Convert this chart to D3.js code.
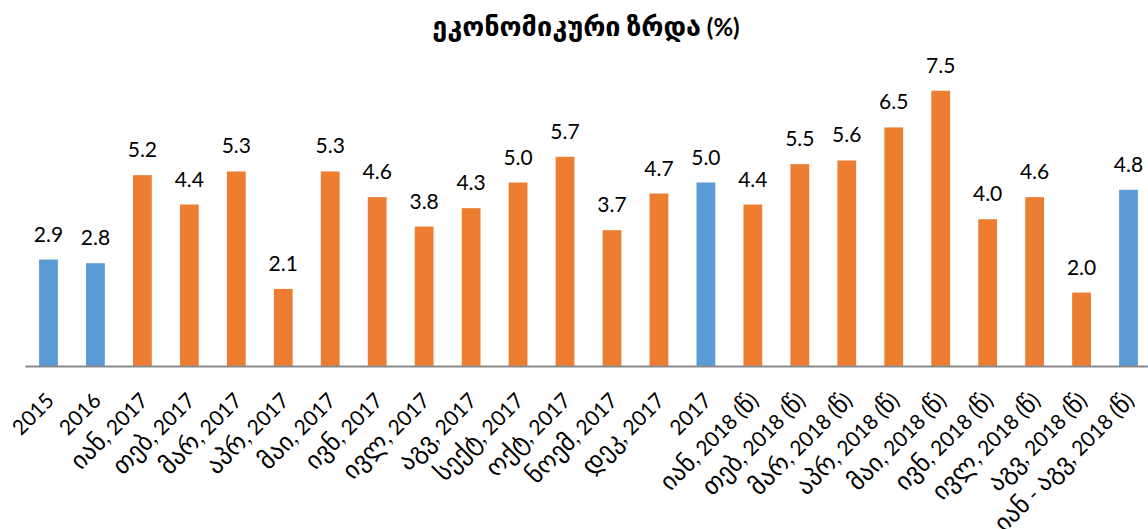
<!DOCTYPE html>
<html>
<head>
<meta charset="utf-8">
<script src="https://cdn.jsdelivr.net/npm/d3@7/dist/d3.min.js"></script>
<style>
  html, body { margin: 0; padding: 0; background: #fff; }
  svg { display: block; }
  text { font-family: "Lato", "DejaVu Sans", sans-serif; fill: #000; }
</style>
</head>
<body>
<svg id="chart" width="1148" height="529"></svg>
<script>
const title = "ეკონომიკური ზრდა (%)";
const categories = [
  "2015", "2016",
  "იან, 2017", "თებ, 2017", "მარ, 2017", "აპრ, 2017", "მაი, 2017", "ივნ, 2017",
  "ივლ, 2017", "აგვ, 2017", "სექტ, 2017", "ოქტ, 2017", "ნოემ, 2017", "დეკ, 2017",
  "2017",
  "იან, 2018 (წ)", "თებ, 2018 (წ)", "მარ, 2018 (წ)", "აპრ, 2018 (წ)",
  "მაი, 2018 (წ)", "ივნ, 2018 (წ)", "ივლ, 2018 (წ)", "აგვ, 2018 (წ)",
  "იან - აგვ, 2018 (წ)"
];
const values = [
  2.9, 2.8,
  5.2, 4.4, 5.3, 2.1, 5.3, 4.6, 3.8, 4.3, 5.0, 5.7, 3.7, 4.7,
  5.0,
  4.4, 5.5, 5.6, 6.5, 7.5, 4.0, 4.6, 2.0,
  4.8
];
// "annual" = yearly / cumulative figure (blue), "monthly" = monthly figure (orange)
const kinds = [
  "annual", "annual",
  "monthly", "monthly", "monthly", "monthly", "monthly", "monthly",
  "monthly", "monthly", "monthly", "monthly", "monthly", "monthly",
  "annual",
  "monthly", "monthly", "monthly", "monthly", "monthly", "monthly", "monthly", "monthly",
  "annual"
];
const yDomain = [0, 8];

const colors = { annual: "#5B9BD5", monthly: "#ED7D31" };

const data = categories.map((c, i) => ({ cat: c, value: values[i], kind: kinds[i] }));

// split a string into runs of Georgian / non-Georgian characters
function runs(str) {
  const out = [];
  const re = /([\u10A0-\u10FF]+)|([^\u10A0-\u10FF]+)/g;
  let m;
  while ((m = re.exec(str)) !== null) {
    out.push({ t: m[0], geo: !!m[1] });
  }
  return out;
}
function fillRuns(sel, str, baseSize, geoSize) {
  sel.text(null);
  runs(str).forEach(r => {
    sel.append("tspan")
      .style("font-size", (r.geo ? geoSize : baseSize) + "px")
      .style("font-family", r.geo ? "'DejaVu Sans', sans-serif" : "Lato, 'DejaVu Sans', sans-serif")
      .text(r.t);
  });
}

const svg = d3.select("#chart");
const baseY = 366;

const x = d3.scaleBand()
  .domain(categories)
  .range([25, 1152])
  .paddingInner(0.6)
  .paddingOuter(0.3);

const y = d3.scaleLinear()
  .domain(yDomain)
  .range([baseY, baseY - 36.7 * 8]);

// Title
const titleText = svg.append("text")
  .attr("x", 586)
  .attr("y", 36)
  .attr("text-anchor", "middle")
  .style("font-weight", "bold");
fillRuns(titleText, title, 24, 27);

// Bars
svg.append("g").selectAll("rect")
  .data(data)
  .join("rect")
  .attr("x", d => x(d.cat))
  .attr("width", x.bandwidth())
  .attr("y", d => y(d.value))
  .attr("height", d => y(0) - y(d.value))
  .attr("fill", d => colors[d.kind]);

// Value labels
svg.append("g").selectAll("text")
  .data(data)
  .join("text")
  .attr("x", d => x(d.cat) + x.bandwidth() / 2)
  .attr("y", d => y(d.value) - 18)
  .attr("text-anchor", "middle")
  .style("font-size", "21px")
  .text(d => d.value.toFixed(1));

// X axis
const axis = svg.append("g")
  .attr("transform", `translate(0,${baseY})`)
  .call(d3.axisBottom(x).tickSize(0).tickSizeOuter(0));

axis.select(".domain")
  .attr("stroke", "#898989")
  .attr("stroke-width", 2);

axis.selectAll(".tick text")
  .attr("x", 0)
  .attr("y", 0)
  .attr("dy", 0)
  .attr("text-anchor", "end")
  .attr("transform", "translate(7,36) rotate(-45)")
  .attr("fill", "#000")
  .each(function(d) { fillRuns(d3.select(this), d, 21, 25); });
</script>
</body>
</html>
